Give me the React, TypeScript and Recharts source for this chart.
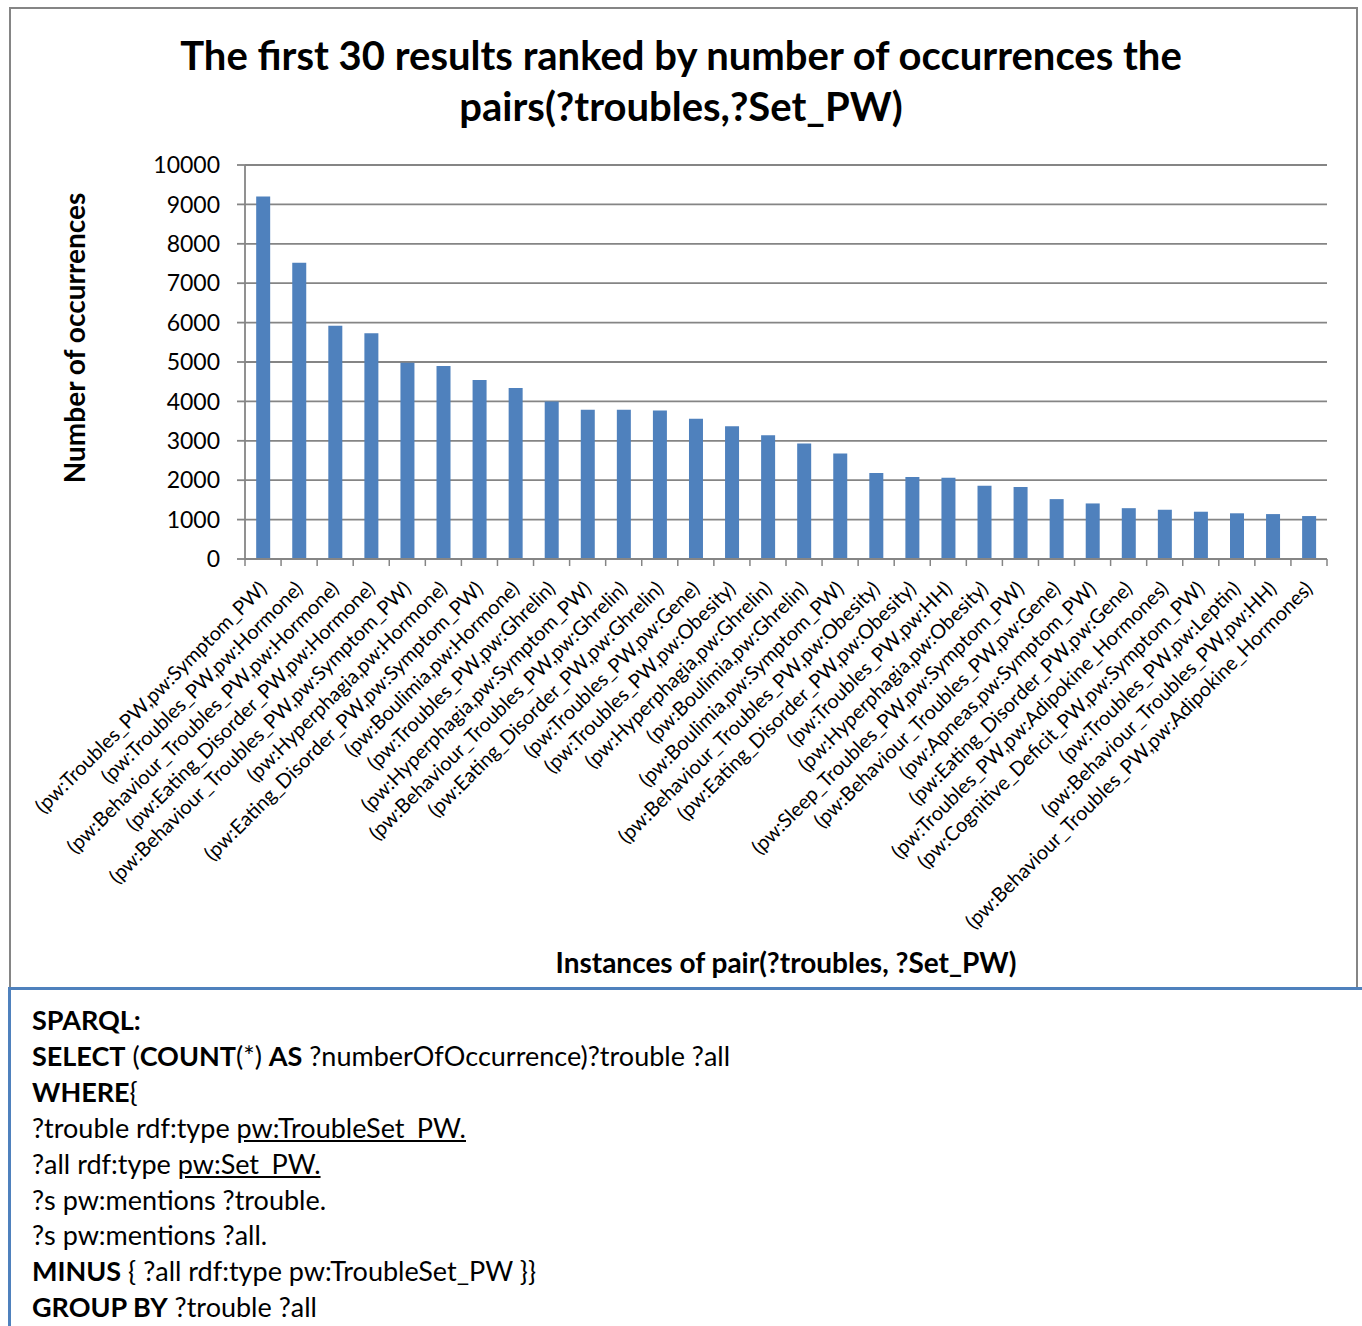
import { BarChart, Bar, XAxis, YAxis, CartesianGrid } from "recharts";

const categories = [
  "(pw:Troubles_PW,pw:Symptom_PW)",
  "(pw:Troubles_PW,pw:Hormone)",
  "(pw:Behaviour_Troubles_PW,pw:Hormone)",
  "(pw:Eating_Disorder_PW,pw:Hormone)",
  "(pw:Behaviour_Troubles_PW,pw:Symptom_PW)",
  "(pw:Hyperphagia,pw:Hormone)",
  "(pw:Eating_Disorder_PW,pw:Symptom_PW)",
  "(pw:Boulimia,pw:Hormone)",
  "(pw:Troubles_PW,pw:Ghrelin)",
  "(pw:Hyperphagia,pw:Symptom_PW)",
  "(pw:Behaviour_Troubles_PW,pw:Ghrelin)",
  "(pw:Eating_Disorder_PW,pw:Ghrelin)",
  "(pw:Troubles_PW,pw:Gene)",
  "(pw:Troubles_PW,pw:Obesity)",
  "(pw:Hyperphagia,pw:Ghrelin)",
  "(pw:Boulimia,pw:Ghrelin)",
  "(pw:Boulimia,pw:Symptom_PW)",
  "(pw:Behaviour_Troubles_PW,pw:Obesity)",
  "(pw:Eating_Disorder_PW,pw:Obesity)",
  "(pw:Troubles_PW,pw:HH)",
  "(pw:Hyperphagia,pw:Obesity)",
  "(pw:Sleep_Troubles_PW,pw:Symptom_PW)",
  "(pw:Behaviour_Troubles_PW,pw:Gene)",
  "(pw:Apneas,pw:Symptom_PW)",
  "(pw:Eating_Disorder_PW,pw:Gene)",
  "(pw:Troubles_PW,pw:Adipokine_Hormones)",
  "(pw:Cognitive_Deficit_PW,pw:Symptom_PW)",
  "(pw:Troubles_PW,pw:Leptin)",
  "(pw:Behaviour_Troubles_PW,pw:HH)",
  "(pw:Behaviour_Troubles_PW,pw:Adipokine_Hormones)",
];

const occurrences = [
  9200, 7520, 5920, 5730, 4980, 4900, 4540, 4340, 4000, 3790,
  3790, 3770, 3560, 3370, 3140, 2930, 2680, 2180, 2080, 2060,
  1860, 1830, 1520, 1410, 1290, 1250, 1200, 1160, 1140, 1090,
];

const yTicks = [0, 1000, 2000, 3000, 4000, 5000, 6000, 7000, 8000, 9000, 10000];

const sparqlLines = [
  [{ t: "SPARQL:", b: true }],
  [
    { t: "SELECT", b: true },
    { t: " (" },
    { t: "COUNT", b: true },
    { t: "(*) " },
    { t: "AS", b: true },
    { t: " ?numberOfOccurrence)?trouble ?all" },
  ],
  [{ t: "WHERE", b: true }, { t: "{" }],
  [{ t: "?trouble rdf:type " }, { t: "pw:TroubleSet_PW.", u: true }],
  [{ t: "?all rdf:type " }, { t: "pw:Set_PW.", u: true }],
  [{ t: "?s pw:mentions ?trouble." }],
  [{ t: "?s pw:mentions ?all." }],
  [{ t: "MINUS", b: true }, { t: " { ?all rdf:type pw:TroubleSet_PW }}" }],
  [{ t: "GROUP BY", b: true }, { t: " ?trouble ?all" }],
];

const data = categories.map((name, i) => ({ name, total: occurrences[i] }));

const font = "Lato, 'Noto Sans', sans-serif";
const axisGray = "#858585";

function CategoryTick(props: any) {
  const { x, y, payload, index } = props;
  const half = payload.offset ?? 18;
  const ty = y + 26;
  return (
    <g>
      <line x1={x - half} y1={y} x2={x - half} y2={y + 7} stroke={axisGray} strokeWidth={1.5} />
      {index === categories.length - 1 && (
        <line x1={x + half} y1={y} x2={x + half} y2={y + 7} stroke={axisGray} strokeWidth={1.5} />
      )}
      <text
        x={x}
        y={ty}
        dy="0.35em"
        textAnchor="end"
        transform={`rotate(-45, ${x}, ${ty})`}
        fontFamily={font}
        fontSize={20}
        fill="#000"
      >
        {payload.value}
      </text>
    </g>
  );
}

export default function App() {
  return (
    <div style={{ position: "absolute", left: 0, top: 0, width: 1362, height: 1326, background: "#fff", overflow: "hidden" }}>
      <div
        style={{
          position: "absolute",
          left: 9,
          top: 7,
          width: 1345,
          height: 990,
          border: `2px solid ${axisGray}`,
        }}
      />
      <div
        style={{
          position: "absolute",
          left: 0,
          top: 30,
          width: 1362,
          textAlign: "center",
          fontFamily: font,
          fontWeight: 700,
          fontSize: 40,
          lineHeight: "51px",
          color: "#000",
        }}
      >
        The first 30 results ranked by number of occurrences the
        <br />
        pairs(?troubles,?Set_PW)
      </div>
      <div style={{ position: "absolute", left: 0, top: 0 }}>
        <BarChart
          width={1362}
          height={960}
          data={data}
          margin={{ top: 165, right: 35, left: 145, bottom: 0 }}
          barCategoryGap="31%"
        >
          <CartesianGrid vertical={false} stroke={axisGray} strokeWidth={1.8} />
          <XAxis
            dataKey="name"
            interval={0}
            height={401}
            axisLine={{ stroke: axisGray, strokeWidth: 1.8 }}
            tickLine={false}
            tickSize={0}
            tickMargin={0}
            tick={<CategoryTick />}
          />
          <YAxis
            width={100}
            domain={[0, 10000]}
            ticks={yTicks}
            interval={0}
            axisLine={{ stroke: axisGray, strokeWidth: 1.8 }}
            tickLine={{ stroke: axisGray, strokeWidth: 1.8 }}
            tickSize={8}
            tickMargin={17}
            tick={{ fill: "#000", fontSize: 23, fontFamily: font }}
          />
          <Bar dataKey="total" fill="#4f81bd" isAnimationActive={false} />
        </BarChart>
      </div>
      <div
        style={{
          position: "absolute",
          left: 74,
          top: 338,
          transform: "translate(-50%, -50%) rotate(-90deg)",
          whiteSpace: "nowrap",
          fontFamily: font,
          fontWeight: 700,
          fontSize: 28,
          color: "#000",
        }}
      >
        Number of occurrences
      </div>
      <div
        style={{
          position: "absolute",
          left: 786,
          top: 962,
          transform: "translate(-50%, -50%)",
          whiteSpace: "nowrap",
          fontFamily: font,
          fontWeight: 700,
          fontSize: 28,
          color: "#000",
        }}
      >
        Instances of pair(?troubles, ?Set_PW)
      </div>
      <div
        style={{
          position: "absolute",
          left: 8,
          top: 987,
          width: 1344,
          height: 400,
          border: "3px solid #4f81bd",
          background: "#fff",
          padding: "12px 0 0 21px",
          fontFamily: font,
          fontSize: 27,
          lineHeight: "35.9px",
          color: "#000",
        }}
      >
        {sparqlLines.map((line, i) => (
          <div key={i} style={{ whiteSpace: "nowrap" }}>
            {line.map((seg: any, j) => (
              <span
                key={j}
                style={{
                  fontWeight: seg.b ? 700 : 400,
                  textDecoration: seg.u ? "underline" : "none",
                  whiteSpace: "pre",
                }}
              >
                {seg.t}
              </span>
            ))}
          </div>
        ))}
      </div>
    </div>
  );
}
